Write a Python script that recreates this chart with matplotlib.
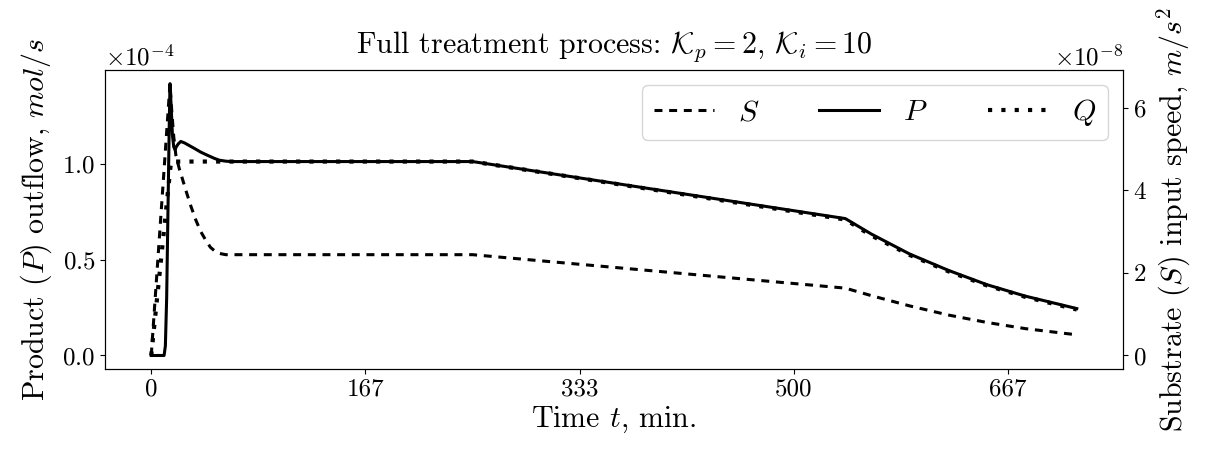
import matplotlib
matplotlib.use("Agg")
import matplotlib.pyplot as plt
import matplotlib.ticker as mticker
import numpy as np

plt.rcParams["font.family"] = "serif"
plt.rcParams["font.serif"] = ["cmr10"]
plt.rcParams["mathtext.fontset"] = "cm"
plt.rcParams["axes.formatter.use_mathtext"] = True
plt.rcParams["font.size"] = 18

# time in minutes
p_time = [0, 10, 11, 12, 13, 14, 14.6, 15.5, 16.5, 17.5, 18.5, 19.5, 21, 23, 26, 30,
          34, 38.6, 44, 49, 53, 58, 62, 250, 540, 560, 590, 620, 650, 680, 720]
p_val = [0, 0, 0.05, 0.3, 0.75, 1.2, 1.42, 1.30, 1.15, 1.09, 1.075, 1.09, 1.105, 1.118,
         1.11, 1.095, 1.08, 1.062, 1.045, 1.03, 1.02, 1.015, 1.013, 1.013, 0.715, 0.635,
         0.53, 0.445, 0.37, 0.31, 0.245]  # x1e-4 mol/s

q_time = [0, 15.4, 250, 540, 560, 590, 620, 650, 680, 720]
q_val = [0, 1.013, 1.013, 0.71, 0.627, 0.525, 0.44, 0.366, 0.306, 0.24]  # x1e-4

s_time = [0, 14.6, 16, 17.5, 19.2, 22, 24, 27, 31, 34.8, 38.5, 42.6, 46, 49, 53, 58,
          250, 540, 560, 590, 620, 650, 680, 720]
s_val = [0, 6.58, 5.9, 5.3, 4.84, 4.5, 4.3, 3.99, 3.6, 3.27, 3.0, 2.78, 2.62, 2.54,
         2.47, 2.44, 2.44, 1.63, 1.45, 1.2, 0.98, 0.8, 0.65, 0.5]  # x1e-8 m/s^2

tick_sec = [0, 10000, 20000, 30000, 40000]
tick_labels = ["0", "167", "333", "500", "667"]

fig, ax = plt.subplots(figsize=(12.05, 4.49), dpi=100)
fig.subplots_adjust(left=0.0871, right=0.932, top=0.844, bottom=0.178)
ax2 = ax.twinx()

lp, = ax.plot(p_time, np.array(p_val) * 1e-4, color="k", lw=2.2, label="$P$")
lq, = ax.plot(q_time, np.array(q_val) * 1e-4, color="k", lw=3, ls=(0, (1, 2.2)), label="$Q$")
ls, = ax2.plot(s_time, np.array(s_val) * 1e-8, color="k", lw=2.2, ls=(0, (2.6, 2.2)), label="$S$")

ax.set_xticks([t / 60 for t in tick_sec])
ax.set_xticklabels(tick_labels)
ax.yaxis.set_major_locator(mticker.MultipleLocator(0.5e-4))
ax2.yaxis.set_major_locator(mticker.MultipleLocator(2e-8))
ax.ticklabel_format(axis="y", style="sci", scilimits=(0, 0))
ax2.ticklabel_format(axis="y", style="sci", scilimits=(0, 0))

ax.set_xlabel("Time $t$, min.", fontsize=21.6, labelpad=3)
ax.set_ylabel("Product $(P)$ outflow, $mol/s$", fontsize=21.6, labelpad=6)
ax2.set_ylabel("Substrate $(S)$ input speed, $m/s^2$", fontsize=21.6, labelpad=6)
ax.set_title(r"Full treatment process: $\mathcal{K}_p=2$, $\mathcal{K}_i=10$", pad=12)

ax2.legend(handles=[ls, lp, lq], loc="upper right", ncol=3, fontsize=21.6)

fig.savefig("out.png", dpi=100)
